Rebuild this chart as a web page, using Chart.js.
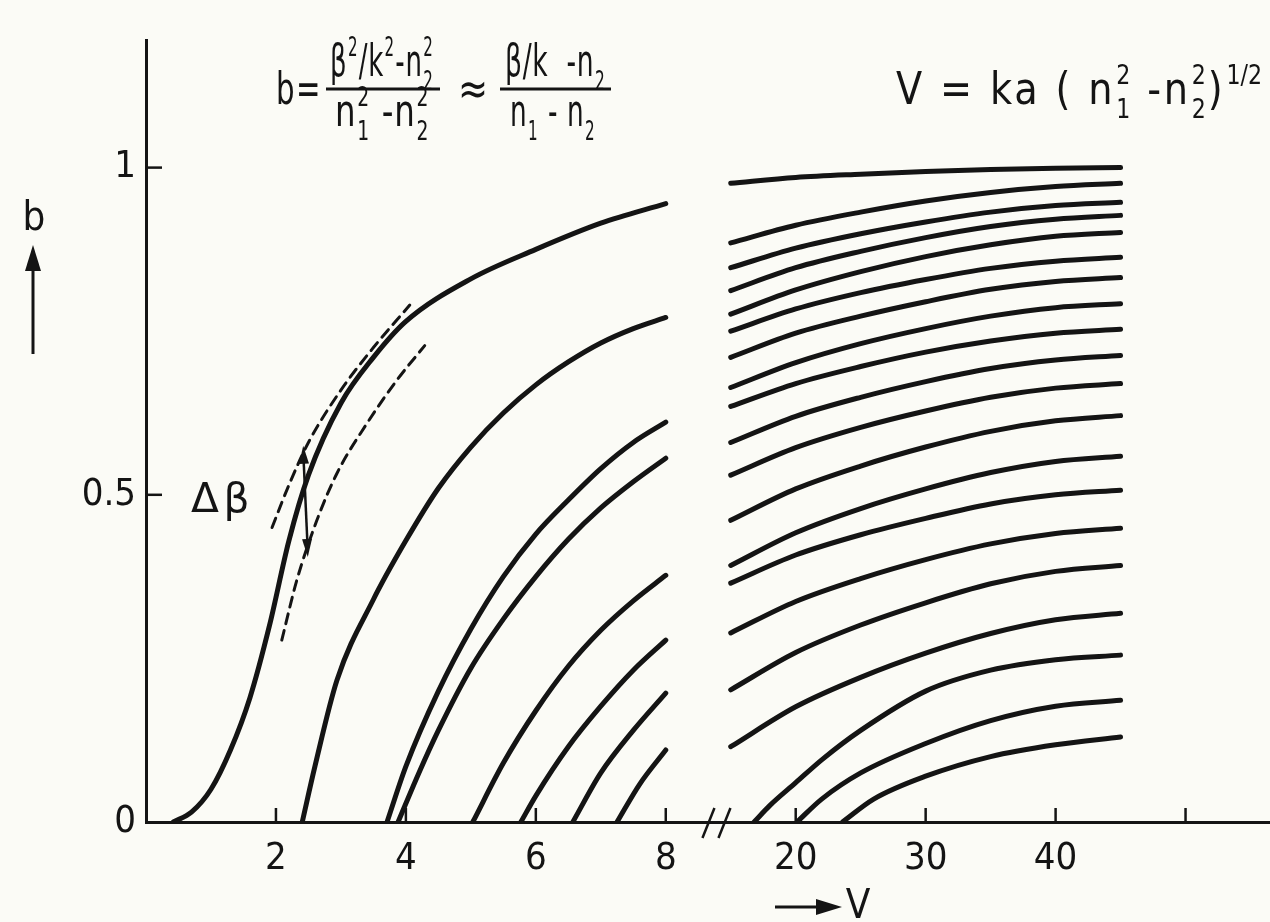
<!DOCTYPE html>
<html>
<head>
<meta charset="utf-8">
<title>b(V) mode curves</title>
<script src="https://cdn.jsdelivr.net/npm/chart.js@4.4.1/dist/chart.umd.min.js"></script>
<style>
  html, body { margin: 0; padding: 0; background: #fbfbf6; }
  #wrap { width: 1270px; height: 922px; }
</style>
</head>
<body>
<div id="wrap"><canvas id="modeChart" width="1270" height="922"></canvas></div>
<script>
// normalised propagation constant b against V, points are [V, b]
// low V part, up to V = 8
const lowCurves = [
  [[0.42, 0], [0.7, 0.015], [1.0, 0.05], [1.3, 0.11], [1.6, 0.19], [1.9, 0.30], [2.2, 0.43], [2.5, 0.53], [3.0, 0.64], [3.5, 0.71], [4.0, 0.765], [5.0, 0.83], [6.0, 0.875], [7.0, 0.915], [8.0, 0.945]],
  [[2.405, 0], [2.6, 0.085], [2.94, 0.217], [3.5, 0.34], [4.0, 0.43], [4.5, 0.51], [5.0, 0.573], [5.5, 0.625], [6.0, 0.668], [6.5, 0.703], [7.0, 0.732], [7.5, 0.754], [8.0, 0.771]],
  [[3.71, 0], [4.0, 0.085], [4.5, 0.2], [5.0, 0.295], [5.5, 0.375], [6.0, 0.44], [6.5, 0.492], [7.0, 0.54], [7.5, 0.58], [8.0, 0.611]],
  [[3.88, 0], [4.2, 0.075], [4.5, 0.14], [5.0, 0.235], [5.5, 0.31], [6.0, 0.375], [6.5, 0.432], [7.0, 0.48], [7.5, 0.52], [8.0, 0.556]],
  [[5.03, 0], [5.5, 0.09], [6.0, 0.17], [6.5, 0.238], [7.0, 0.293], [7.5, 0.338], [8.0, 0.377]],
  [[5.77, 0], [6.0, 0.04], [6.5, 0.115], [7.0, 0.177], [7.5, 0.232], [8.0, 0.278]],
  [[6.57, 0], [7.0, 0.075], [7.5, 0.14], [8.0, 0.197]],
  [[7.25, 0], [7.6, 0.058], [8.0, 0.11]]
];

// high V part: curves already guided at V = 15, sampled on a common V grid
const highV = [15, 20, 25, 30, 35, 40, 45];
const highB = [
  [0.976, 0.985, 0.990, 0.994, 0.997, 0.999, 1.000],
  [0.885, 0.912, 0.932, 0.949, 0.962, 0.971, 0.976],
  [0.847, 0.877, 0.899, 0.917, 0.932, 0.942, 0.947],
  [0.812, 0.847, 0.872, 0.893, 0.910, 0.921, 0.927],
  [0.776, 0.813, 0.841, 0.864, 0.882, 0.895, 0.901],
  [0.750, 0.784, 0.809, 0.829, 0.846, 0.857, 0.863],
  [0.710, 0.747, 0.773, 0.795, 0.814, 0.826, 0.832],
  [0.664, 0.702, 0.731, 0.754, 0.773, 0.786, 0.792],
  [0.635, 0.670, 0.696, 0.718, 0.735, 0.747, 0.753],
  [0.580, 0.620, 0.649, 0.673, 0.693, 0.706, 0.713],
  [0.530, 0.572, 0.603, 0.628, 0.649, 0.663, 0.670],
  [0.461, 0.509, 0.544, 0.573, 0.597, 0.613, 0.621],
  [0.392, 0.442, 0.479, 0.509, 0.534, 0.551, 0.559],
  [0.365, 0.408, 0.439, 0.464, 0.486, 0.500, 0.507],
  [0.289, 0.337, 0.372, 0.401, 0.425, 0.441, 0.449],
  [0.202, 0.259, 0.301, 0.335, 0.364, 0.383, 0.392],
  [0.115, 0.176, 0.221, 0.258, 0.288, 0.309, 0.319]
];

// high V modes that reach cutoff inside the plotted range
const cutoffCurves = [
  [[16.8, 0], [18, 0.025], [20, 0.06], [22, 0.095], [25, 0.14], [30, 0.20], [35, 0.232], [40, 0.248], [45, 0.255]],
  [[20.1, 0], [22, 0.035], [25, 0.075], [30, 0.12], [35, 0.155], [40, 0.177], [45, 0.186]],
  [[23.6, 0], [26, 0.035], [30, 0.07], [35, 0.1], [40, 0.118], [45, 0.130]]
];

// spread of the fundamental mode (dashed)
const dashUpper = [[1.94, 0.45], [2.2, 0.515], [2.5, 0.58], [3.0, 0.66], [3.5, 0.725], [4.06, 0.79]];
const dashLower = [[2.09, 0.278], [2.32, 0.369], [2.63, 0.461], [2.94, 0.533], [3.4, 0.609], [3.86, 0.675], [4.29, 0.728]];

const xTickV = [2, 4, 6, 8, 20, 30, 40, 50];
const xTickLabels = ['2', '4', '6', '8', '20', '30', '40', ''];
const yTickV = [0, 0.5, 1];
const yTickLabels = ['0', '0.5', '1'];

const INK = '#141414';
const FONT = '"DejaVu Sans Condensed", "Liberation Sans Narrow", "DejaVu Sans", sans-serif';

// broken V axis: linear up to the break, then V = 20 + 5 units per step
function axisPos(v) {
  return v <= 10 ? v : 10 + (v - 20) / 5;
}

function toPoints(list) {
  return list.map(p => ({ x: axisPos(p[0]), y: p[1] }));
}

const datasets = [];
lowCurves.concat(cutoffCurves).forEach(c => {
  datasets.push({ data: toPoints(c), borderColor: INK, borderWidth: 5 });
});
highB.forEach(row => {
  datasets.push({ data: toPoints(highV.map((v, i) => [v, row[i]])), borderColor: INK, borderWidth: 5 });
});
[dashUpper, dashLower].forEach(c => {
  datasets.push({ data: toPoints(c), borderColor: INK, borderWidth: 3, borderDash: [10, 7] });
});

// text with super/subscripts; a run is a string or {sup, sub}
function drawRuns(ctx, runs, x, y, size, spacing, measureOnly) {
  const small = Math.round(size * 0.58);
  let cx = x;
  runs.forEach(r => {
    if (typeof r === 'string') {
      ctx.font = size + 'px ' + FONT;
      ctx.letterSpacing = (spacing || 0) + 'px';
      if (!measureOnly) ctx.fillText(r, cx, y);
      cx += ctx.measureText(r).width;
    } else {
      ctx.font = small + 'px ' + FONT;
      ctx.letterSpacing = '0px';
      let w = 0;
      if (r.sup) {
        if (!measureOnly) ctx.fillText(r.sup, cx + 1, y - size * 0.45);
        w = ctx.measureText(r.sup).width;
      }
      if (r.sub) {
        if (!measureOnly) ctx.fillText(r.sub, cx + 1, y + size * 0.32);
        w = Math.max(w, ctx.measureText(r.sub).width);
      }
      cx += w + 3;
    }
  });
  ctx.letterSpacing = '0px';
  return cx - x;
}

// squeeze or stretch a run of text to sit between x0 and x1
function fitRuns(ctx, runs, x0, x1, y, size, spacing) {
  const w = drawRuns(ctx, runs, 0, 0, size, spacing, true);
  ctx.save();
  ctx.translate(x0, y);
  ctx.scale((x1 - x0) / w, 1);
  drawRuns(ctx, runs, 0, 0, size, spacing);
  ctx.restore();
}

function arrowHead(ctx, x, y, angle, len, half) {
  ctx.save();
  ctx.translate(x, y);
  ctx.rotate(angle);
  ctx.beginPath();
  ctx.moveTo(0, 0);
  ctx.lineTo(-len, -half);
  ctx.lineTo(-len, half);
  ctx.closePath();
  ctx.fill();
  ctx.restore();
}

const decor = {
  id: 'decor',
  beforeDraw(chart) {
    const ctx = chart.ctx;
    ctx.save();
    ctx.fillStyle = '#fbfbf6';
    ctx.fillRect(0, 0, chart.width, chart.height);
    ctx.restore();
  },
  afterDraw(chart) {
    const ctx = chart.ctx;
    const xs = chart.scales.x, ys = chart.scales.y;
    const area = chart.chartArea;
    ctx.save();
    ctx.strokeStyle = INK;
    ctx.fillStyle = INK;
    ctx.lineCap = 'butt';
    ctx.textAlign = 'left';
    ctx.textBaseline = 'alphabetic';

    // inward tick marks
    ctx.lineWidth = 2.5;
    xTickV.forEach(v => {
      const px = xs.getPixelForValue(axisPos(v));
      ctx.beginPath();
      ctx.moveTo(px, area.bottom);
      ctx.lineTo(px, area.bottom - 14);
      ctx.stroke();
    });
    yTickV.slice(1).forEach(v => {
      const py = ys.getPixelForValue(v);
      ctx.beginPath();
      ctx.moveTo(area.left, py);
      ctx.lineTo(area.left + 16, py);
      ctx.stroke();
    });

    // axis break marks
    const bx = xs.getPixelForValue(8.78);
    [-8, 8].forEach(d => {
      ctx.beginPath();
      ctx.moveTo(bx + d - 6, area.bottom + 16);
      ctx.lineTo(bx + d + 6, area.bottom - 14);
      ctx.stroke();
    });

    // delta beta marker between the dashed curves
    const ax = xs.getPixelForValue(2.42), ay0 = ys.getPixelForValue(0.575);
    const bx2 = xs.getPixelForValue(2.49), ay1 = ys.getPixelForValue(0.405);
    ctx.beginPath();
    ctx.moveTo(ax, ay0 + 6);
    ctx.lineTo(bx2, ay1 - 6);
    ctx.stroke();
    const ang = Math.atan2(ay1 - ay0, bx2 - ax);
    arrowHead(ctx, ax, ay0, ang + Math.PI, 18, 5);
    arrowHead(ctx, bx2, ay1, ang, 18, 5);
    fitRuns(ctx, ['Δβ'], 191, 254, 512, 40, 4);

    // axis names with arrows
    ctx.font = '40px ' + FONT;
    ctx.textAlign = 'center';
    ctx.fillText('b', 34, 230);
    ctx.fillText('V', 858, 918);
    ctx.lineWidth = 3;
    ctx.beginPath();
    ctx.moveTo(33, 354);
    ctx.lineTo(33, 262);
    ctx.stroke();
    arrowHead(ctx, 33, 245, -Math.PI / 2, 26, 8);
    ctx.beginPath();
    ctx.moveTo(775, 907);
    ctx.lineTo(822, 907);
    ctx.stroke();
    arrowHead(ctx, 842, 907, 0, 26, 8);

    // definitions of b and V
    ctx.textAlign = 'left';
    const S = 45;
    fitRuns(ctx, ['b='], 276, 322, 104, S, 2);
    ctx.fillRect(326, 87.5, 114, 3);
    fitRuns(ctx, ['β', { sup: '2' }, '/k', { sup: '2' }, '-n', { sup: '2', sub: '2' }], 330, 434, 76, S, 1);
    fitRuns(ctx, ['n', { sup: '2', sub: '1' }, ' -n', { sup: '2', sub: '2' }], 335, 430, 126, S, 1);
    fitRuns(ctx, ['≈'], 458, 488, 104, S, 0);
    ctx.fillRect(500, 87.5, 111, 3);
    fitRuns(ctx, ['β/k  -n', { sub: '2' }], 505, 606, 76, S, 1);
    fitRuns(ctx, ['n', { sub: '1' }, ' - n', { sub: '2' }], 510, 596, 126, S, 1);
    fitRuns(ctx, ['V = ka ( n', { sup: '2', sub: '1' }, ' -n', { sup: '2', sub: '2' }, ')', { sup: '1/2' }], 896, 1264, 104, S, 3);

    ctx.restore();
  }
};

new Chart(document.getElementById('modeChart'), {
  type: 'line',
  data: { datasets },
  options: {
    responsive: false,
    animation: false,
    events: [],
    layout: { padding: { top: 40, right: 0, left: 0, bottom: 0 } },
    elements: {
      point: { radius: 0 },
      line: { cubicInterpolationMode: 'monotone', fill: false, borderCapStyle: 'round' }
    },
    plugins: { legend: { display: false }, tooltip: { enabled: false } },
    scales: {
      x: {
        type: 'linear',
        min: 0,
        max: 17.3,
        afterBuildTicks: s => { s.ticks = xTickV.map(v => ({ value: axisPos(v) })); },
        afterFit: s => { s.height = 100; },
        grid: { display: false, drawTicks: false },
        border: { display: true, color: INK, width: 3 },
        ticks: {
          autoSkip: false,
          maxRotation: 0,
          padding: 14,
          color: INK,
          font: { family: FONT, size: 38 },
          callback: (v, i) => xTickLabels[i]
        }
      },
      y: {
        type: 'linear',
        min: 0,
        max: 1.195,
        afterBuildTicks: s => { s.ticks = yTickV.map(v => ({ value: v })); },
        afterFit: s => { s.width = 146; },
        grid: { display: false, drawTicks: false },
        border: { display: true, color: INK, width: 3 },
        ticks: {
          padding: 10,
          color: INK,
          font: { family: FONT, size: 38 },
          callback: (v, i) => yTickLabels[i]
        }
      }
    }
  },
  plugins: [decor]
});
</script>
</body>
</html>
